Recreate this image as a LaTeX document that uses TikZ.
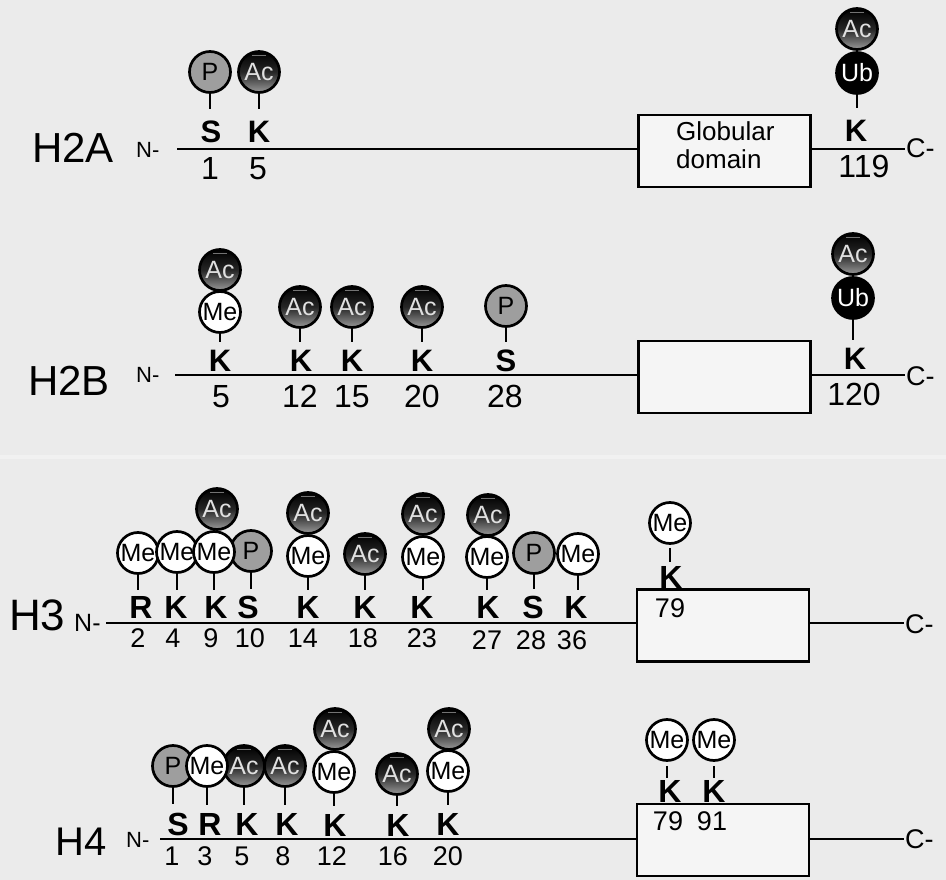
\documentclass[tikz,border=0pt]{standalone}
\usepackage{fontspec}
\setmainfont{Liberation Sans}
\newcommand\fsz[1]{\fontsize{#1}{#1}\selectfont}
\definecolor{bgc}{RGB}{235,235,235}
\definecolor{boxfill}{RGB}{245,245,245}
\definecolor{pgray}{RGB}{158,158,158}
\begin{document}
\begin{tikzpicture}[x=1pt,y=-1pt,
  mod/.style={circle, draw=black, line width=2.7pt, minimum size=41pt, inner sep=0pt, font=\fsz{25}},
  acm/.style={mod, top color=black, bottom color=black!40, middle color=black!85, text=black!12,
    path picture={\draw[black!55, line width=1.3pt] ([xshift=-7pt,yshift=16.5pt]path picture bounding box.center) -- ++(14pt,0pt);}},
  mem/.style={mod, fill=white, text=black},
  phm/.style={mod, fill=pgray, text=black},
  ubm/.style={mod, fill=black, text=white},
  resA/.style={inner sep=0pt, anchor=base, font=\bfseries\fsz{31}},
  resB/.style={inner sep=0pt, anchor=base, font=\bfseries\fsz{32}},
  numA/.style={inner sep=0pt, anchor=base, font=\fsz{32}},
  numB/.style={inner sep=0pt, anchor=base, font=\fsz{27}},
  stem/.style={line width=2.2pt, shorten >=#1},
  stem/.default=7pt,
  chainline/.style={line width=2.8pt},
  dom/.style={draw, line width=2.7pt, fill=boxfill, minimum width=172pt, minimum height=72pt, inner sep=0pt},
  hlabel/.style={inner sep=0pt, anchor=base west},
  nlab/.style={inner sep=0pt, anchor=west, font=\fsz{22}},
  clab/.style={inner sep=0pt, anchor=west, font=\fsz{27}},
]
\fill[bgc] (0,0) rectangle (946,880);
\useasboundingbox (0,0) rectangle (946,880);
\fill[white, opacity=0.3] (0,455) rectangle (946,459);

% ================= H2A =================
\node[hlabel, font=\fsz{42}] (hA) at (32,163) {H2A};
\node[nlab] (nA) at (136,150) {N-};
\coordinate (sA) at (177,149);
\coordinate (eA) at (905,149);
\node[dom] (boxA) at (724.5,151) {};
\node[anchor=north west, align=left, inner sep=0pt, font=\fontsize{26}{28}\selectfont] (gdA) at (676,121) {Globular\\domain};
\draw[chainline] (sA) -- (sA -| boxA.west);
\draw[chainline] (sA -| boxA.east) -- (eA);
\node[clab] (cA) at (906,148) {C-};

\node[phm] (a1c) at (210,72) {P};
\node[acm] (a5c) at (259,72) {Ac};
\node[resA] (a1) at (211,143) {S};
\node[resA] (a5) at (259,143) {K};
\node[numA] (a1n) at (210,180) {1};
\node[numA] (a5n) at (258,180) {5};
\draw[stem=12pt] (a1c.south) -- (a1c.south |- a1.north);
\draw[stem=12pt] (a5c.south) -- (a5c.south |- a5.north);

\node[ubm] (a119u) at (857,73) {Ub};
\node[acm] (a119a) at (857,29) {Ac};
\node[resA] (a119) at (856,142) {K};
\node[numA] (a119n) at (864,178) {119};
\draw[stem=12pt] (a119u.south) -- (a119u.south |- a119.north);

% ================= H2B =================
\node[hlabel, font=\fsz{42}] (hB) at (28,395) {H2B};
\node[nlab] (nB) at (136,375) {N-};
\coordinate (sB) at (175,375);
\coordinate (eB) at (905,375);
\node[dom] (boxB) at (724.5,377) {};
\draw[chainline] (sB) -- (sB -| boxB.west);
\draw[chainline] (sB -| boxB.east) -- (eB);
\node[clab] (cB) at (906,376) {C-};

\node[mem] (b5m) at (220,312) {Me};
\node[acm] (b5a) at (220,270) {Ac};
\node[acm] (b12c) at (300,307) {Ac};
\node[acm] (b15c) at (352,307) {Ac};
\node[acm] (b20c) at (422,307) {Ac};
\node[phm] (b28c) at (506,306) {P};
\node[resA] (b5) at (220,371) {K};
\node[resA] (b12) at (301,371) {K};
\node[resA] (b15) at (352,371) {K};
\node[resA] (b20) at (422,371) {K};
\node[resA] (b28) at (506,371) {S};
\node[numA] (b5n) at (221,407) {5};
\node[numA] (b12n) at (300,407) {12};
\node[numA] (b15n) at (352,407) {15};
\node[numA] (b20n) at (422,407) {20};
\node[numA] (b28n) at (505,407) {28};
\draw[stem] (b5m.south) -- (b5m.south |- b5.north);
\draw[stem] (b12c.south) -- (b12c.south |- b12.north);
\draw[stem] (b15c.south) -- (b15c.south |- b15.north);
\draw[stem] (b20c.south) -- (b20c.south |- b20.north);
\draw[stem] (b28c.south) -- (b28c.south |- b28.north);

\node[ubm] (b120u) at (853,298) {Ub};
\node[acm] (b120a) at (853,254) {Ac};
\node[resA] (b120) at (855,369) {K};
\node[numA] (b120n) at (854,405) {120};
\draw[stem] (b120u.south) -- (b120u.south |- b120.north);

% ================= H3 =================
\node[hlabel, font=\fsz{44}] (hC) at (9,630) {H3};
\node[nlab, font=\fsz{25}] (nC) at (74,623) {N-};
\coordinate (sC) at (106,623);
\coordinate (eC) at (904,623);
\node[dom] (boxC) at (723,625.5) {};
\draw[chainline] (sC) -- (sC -| boxC.west);
\draw[chainline] (sC -| boxC.east) -- (eC);
\node[clab] (cC) at (905,624) {C-};

\node[phm] (c10c) at (251,551) {P};
\node[mem] (c2c) at (138,553) {Me};
\node[mem] (c4c) at (177,552) {Me};
\node[mem] (c9c) at (214,552) {Me};
\node[acm] (c9a) at (217,509) {Ac};
\node[mem] (c14c) at (308,556) {Me};
\node[acm] (c14a) at (308,513) {Ac};
\node[acm] (c18c) at (365,554) {Ac};
\node[mem] (c23c) at (423,557) {Me};
\node[acm] (c23a) at (423,514) {Ac};
\node[phm] (c28c) at (534,553) {P};
\node[mem] (c27c) at (487,557) {Me};
\node[acm] (c27a) at (488,515) {Ac};
\node[mem] (c36c) at (578,554) {Me};

\node[resB] (c2) at (141,618) {R};
\node[resB] (c4) at (176,618) {K};
\node[resB] (c9) at (216,618) {K};
\node[resB] (c10) at (248,618) {S};
\node[resB] (c14) at (308,618) {K};
\node[resB] (c18) at (365,618) {K};
\node[resB] (c23) at (422,618) {K};
\node[resB] (c27) at (488,618) {K};
\node[resB] (c28) at (533,618) {S};
\node[resB] (c36) at (576,618) {K};
\node[numB] (c2n) at (138,647) {2};
\node[numB] (c4n) at (173,647) {4};
\node[numB] (c9n) at (211,647) {9};
\node[numB] (c10n) at (250,647) {10};
\node[numB] (c14n) at (303,647) {14};
\node[numB] (c18n) at (363,647) {18};
\node[numB] (c23n) at (422,647) {23};
\node[numB] (c27n) at (487,649) {27};
\node[numB] (c28n) at (531,649) {28};
\node[numB] (c36n) at (572,649) {36};
\draw[stem=6pt] (c2c.south) -- (c2c.south |- c2.north);
\draw[stem=6pt] (c4c.south) -- (c4c.south |- c4.north);
\draw[stem=6pt] (c9c.south) -- (c9c.south |- c9.north);
\draw[stem=6pt] (c10c.south) -- (c10c.south |- c10.north);
\draw[stem=6pt] (c14c.south) -- (c14c.south |- c14.north);
\draw[stem=6pt] (c18c.south) -- (c18c.south |- c18.north);
\draw[stem=6pt] (c23c.south) -- (c23c.south |- c23.north);
\draw[stem=6pt] (c27c.south) -- (c27c.south |- c27.north);
\draw[stem=6pt] (c28c.south) -- (c28c.south |- c28.north);
\draw[stem=6pt] (c36c.south) -- (c36c.south |- c36.north);

\node[mem] (c79c) at (670,523) {Me};
\node[resB] (c79) at (671,588) {K};
\node[numB] (c79n) at (670,617) {79};
\draw[stem=4pt] ([yshift=-3pt]c79c.south) -- (c79c.south |- c79.north);

% ================= H4 =================
\node[hlabel, font=\fsz{40}] (hD) at (55,855) {H4};
\node[nlab] (nD) at (126,840) {N-};
\coordinate (sD) at (160,839);
\coordinate (eD) at (904,839);
\node[dom] (boxD) at (723,840) {};
\draw[chainline] (sD) -- (sD -| boxD.west);
\draw[chainline] (sD -| boxD.east) -- (eD);
\node[clab] (cD) at (905,839) {C-};

\node[phm] (d1c) at (173,766) {P};
\node[acm] (d8c) at (285,766) {Ac};
\node[acm] (d5c) at (244,766) {Ac};
\node[mem] (d3c) at (207,766) {Me};
\node[mem] (d12c) at (334,772) {Me};
\node[acm] (d12a) at (335,729) {Ac};
\node[acm] (d16c) at (397,774) {Ac};
\node[mem] (d20c) at (448,771) {Me};
\node[acm] (d20a) at (449,729) {Ac};

\node[resB] (d1) at (178,835) {S};
\node[resB] (d3) at (210,835) {R};
\node[resB] (d5) at (247,835) {K};
\node[resB] (d8) at (287,835) {K};
\node[resB] (d12) at (335,836) {K};
\node[resB] (d16) at (398,836) {K};
\node[resB] (d20) at (448,835) {K};
\node[numB] (d1n) at (172,865) {1};
\node[numB] (d3n) at (205,865) {3};
\node[numB] (d5n) at (242,865) {5};
\node[numB] (d8n) at (283,865) {8};
\node[numB] (d12n) at (332,865) {12};
\node[numB] (d16n) at (393,865) {16};
\node[numB] (d20n) at (448,865) {20};
\draw[stem=8pt] (d1c.south) -- (d1c.south |- d1.north);
\draw[stem=8pt] (d3c.south) -- (d3c.south |- d3.north);
\draw[stem=8pt] (d5c.south) -- (d5c.south |- d5.north);
\draw[stem=8pt] (d8c.south) -- (d8c.south |- d8.north);
\draw[stem=8pt] (d12c.south) -- (d12c.south |- d12.north);
\draw[stem=8pt] (d16c.south) -- (d16c.south |- d16.north);
\draw[stem=8pt] (d20c.south) -- (d20c.south |- d20.north);

\node[mem] (d79c) at (667,740) {Me};
\node[mem] (d91c) at (714,740) {Me};
\node[resB] (d79) at (670,802) {K};
\node[resB] (d91) at (714,802) {K};
\node[numB] (d79n) at (668,830) {79};
\node[numB] (d91n) at (712,830) {91};
\draw[stem=2pt] ([yshift=-4pt]d79c.south) -- (d79c.south |- d79.north);
\draw[stem=2pt] ([yshift=-4pt]d91c.south) -- (d91c.south |- d91.north);
\end{tikzpicture}
\end{document}
